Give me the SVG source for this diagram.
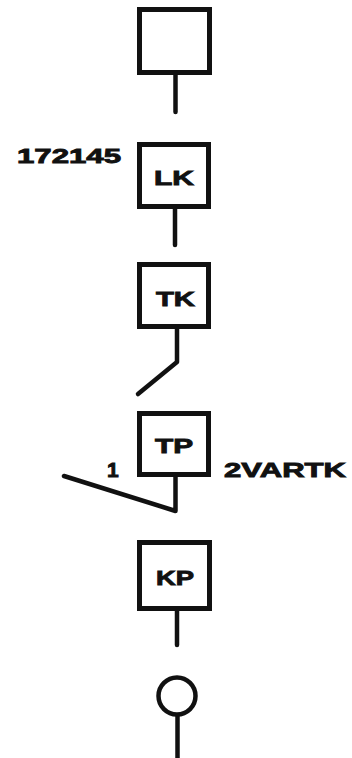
<svg xmlns="http://www.w3.org/2000/svg" width="352" height="758" viewBox="0 0 352 758">
<style>
.box{fill:#fff;stroke:#111;stroke-width:5}
.ln{fill:none;stroke:#111;stroke-width:4.5;stroke-linecap:round;stroke-linejoin:round}
.t{font-family:"Liberation Sans",Arial,sans-serif;font-weight:bold;font-size:21px;fill:#111;stroke:#111;stroke-width:0.9}
</style>
<rect width="352" height="758" fill="#fff"/>
<g id="connectors">
<path class="ln" d="M175.5 75 V112"/>
<path class="ln" d="M175 209 V245"/>
<path class="ln" d="M177 329 V362 L138 394"/>
<path class="ln" d="M175.5 477 V511 L64 476"/>
<path class="ln" d="M177 611 V645"/>
<path class="ln" d="M177.5 715 V758"/>
</g>
<g id="node-top"><rect class="box" x="139.5" y="9.5" width="70" height="63"/></g>
<g id="node-LK"><rect class="box" x="139.5" y="144.5" width="69" height="62"/><text class="t" x="154" y="185" textLength="40" lengthAdjust="spacingAndGlyphs">LK</text></g>
<g id="label-172145"><text class="t" x="17" y="163" textLength="104" lengthAdjust="spacingAndGlyphs">172145</text></g>
<g id="node-TK"><rect class="box" x="139.5" y="264.5" width="69" height="62"/><text class="t" x="156" y="306" textLength="39" lengthAdjust="spacingAndGlyphs">TK</text></g>
<g id="node-TP"><rect class="box" x="139.5" y="413.5" width="69" height="61"/><text class="t" x="155" y="453" textLength="38" lengthAdjust="spacingAndGlyphs">TP</text></g>
<g id="label-1"><text class="t" x="107" y="477">1</text></g>
<g id="label-2VARTK"><text class="t" x="224" y="477" textLength="122" lengthAdjust="spacingAndGlyphs">2VARTK</text></g>
<g id="node-KP"><rect class="box" x="139.5" y="542.5" width="70" height="66"/><text class="t" x="156" y="585" textLength="38" lengthAdjust="spacingAndGlyphs">KP</text></g>
<g id="node-circle"><circle cx="177" cy="696" r="18.5" fill="#fff" stroke="#111" stroke-width="4.5"/></g>
</svg>
